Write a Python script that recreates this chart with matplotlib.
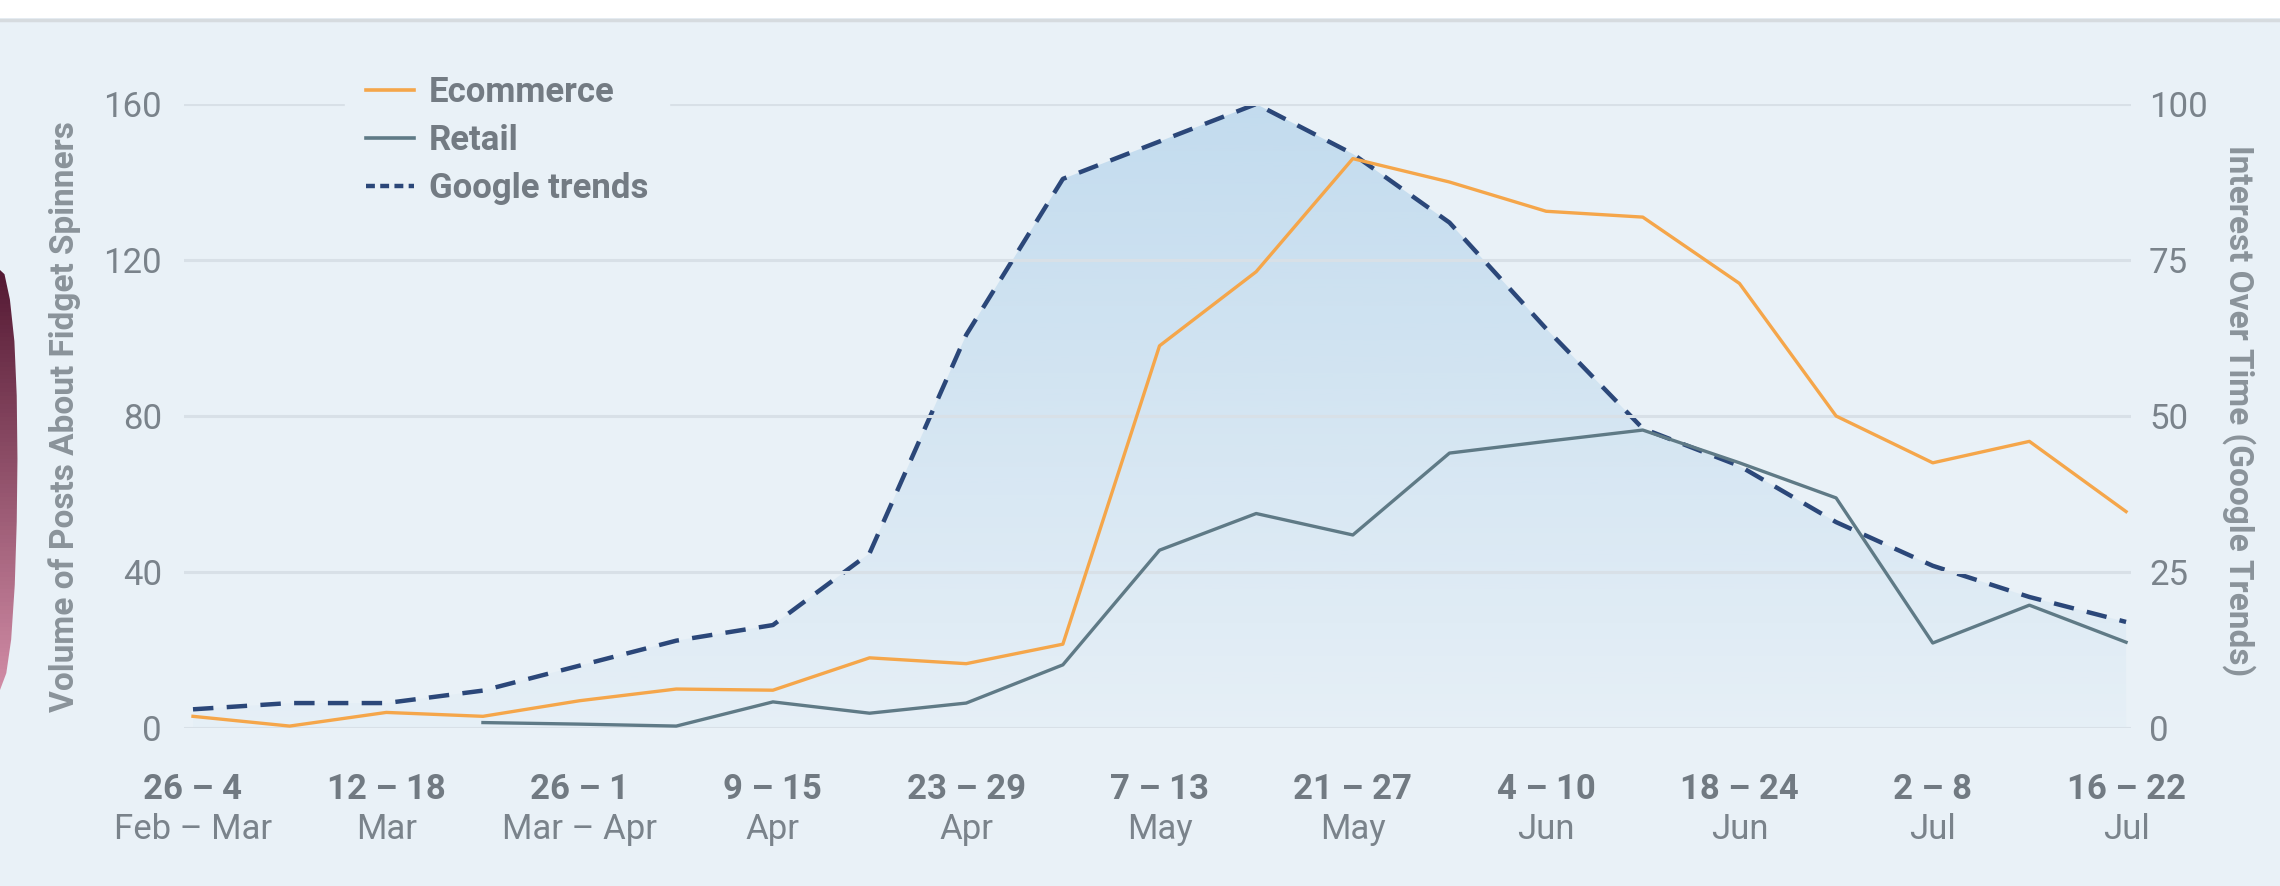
import numpy as np
import matplotlib
matplotlib.use('Agg')
import matplotlib.pyplot as plt
from matplotlib.lines import Line2D
from matplotlib.patches import Rectangle, Polygon

plt.rcParams['font.family'] = ['Roboto', 'DejaVu Sans']

# Weekly buckets, 26 Feb - 22 Jul
week_top = ['26 – 4', '12 – 18', '26 – 1', '9 – 15', '23 – 29', '7 – 13',
            '21 – 27', '4 – 10', '18 – 24', '2 – 8', '16 – 22']
week_bottom = ['Feb – Mar', 'Mar', 'Mar – Apr', 'Apr', 'Apr', 'May',
               'May', 'Jun', 'Jun', 'Jul', 'Jul']

# Volume of posts (left axis)
ecommerce = [3, 0.5, 4, 3, 7, 10, 9.7, 18, 16.5, 21.5, 98, 117, 146, 140,
             132.5, 131, 114, 80, 68, 73.5, 55.5]
retail = [np.nan, np.nan, np.nan, 1.4, 1, 0.5, 6.7, 3.8, 6.4, 16.2, 45.6, 55,
          49.5, 70.5, 73.5, 76.4, 68, 59, 21.8, 31.5, 22]
# Google trends interest (right axis, 0-100)
google = [3, 4, 4, 6, 10, 14, 16.5, 28, 63, 88, 94, 100, 92, 81, 64, 48, 42,
          33, 26, 21, 17]

left_ticks = [0, 40, 80, 120, 160]
right_ticks = [0, 25, 50, 75, 100]

BG = '#e9f1f7'
TXT = '#7a838b'
ORANGE = '#f5a64a'
RETAIL = '#5f7a86'
NAVY = '#2b4779'

x = np.arange(len(google))

fig = plt.figure(figsize=(22.8, 8.86), dpi=100, facecolor=BG)
ax = fig.add_axes([0.0807, 0.1783, 0.8539, 0.7043])
ax2 = ax.twinx()
ax.set_zorder(ax2.get_zorder() + 1)
ax.patch.set_visible(False)
ax2.patch.set_visible(False)

# gradient area under the Google trends curve
poly = ax2.fill_between(x, google, 0, color='none', lw=0)
clip = poly.get_paths()[0]
grad = np.zeros((256, 1, 4))
grad[:, 0, 0] = 0.60
grad[:, 0, 1] = 0.77
grad[:, 0, 2] = 0.90
grad[:, 0, 3] = np.linspace(0.04, 0.48, 256)
im = ax2.imshow(grad, extent=[x[0], x[-1], 0, 100], aspect='auto',
                origin='lower', zorder=1)
im.set_clip_path(clip, transform=ax2.transData)
ax2.plot(x, google, color=NAVY, lw=3.2, dashes=(4.6, 3.0), zorder=3,
         dash_capstyle='butt')

ax.plot(x, ecommerce, color=ORANGE, lw=2.4, zorder=4, clip_on=False)
ax.plot(x, retail, color=RETAIL, lw=2.4, zorder=4, clip_on=False)

ax.set_xlim(-0.093, 20.05)
ax2.set_xlim(-0.093, 20.05)
ax.set_ylim(0, 160)
ax2.set_ylim(0, 100)

for a in (ax, ax2):
    for s in a.spines.values():
        s.set_visible(False)

ax.set_axisbelow(True)
ax.yaxis.grid(True, color='#d8e0e7', lw=2.2)
ax.set_yticks(left_ticks)
ax.set_yticklabels([str(t) for t in left_ticks])
ax.tick_params(axis='y', length=0, pad=16, labelsize=25, labelcolor=TXT)
ax2.set_yticks(right_ticks)
ax2.set_yticklabels([str(t) for t in right_ticks])
ax2.tick_params(axis='y', length=0, pad=13, labelsize=25, labelcolor=TXT)

ax.set_xticks([])
ax2.set_xticks([])
trans = ax.get_xaxis_transform()
for i, (top, bottom) in enumerate(zip(week_top, week_bottom)):
    ax.text(x[2 * i], -0.099, top, transform=trans, ha='center', va='center',
            fontsize=25, fontweight='bold', color='#717a82')
    ax.text(x[2 * i], -0.163, bottom, transform=trans, ha='center',
            va='center', fontsize=25, color=TXT)

fig.text(0.0285, 0.530, 'Volume of Posts About Fidget Spinners', rotation=90,
         ha='center', va='center', fontsize=24, fontweight='bold',
         color='#8a939a')
fig.text(0.982, 0.536, 'Interest Over Time (Google Trends)', rotation=-90,
         ha='center', va='center', fontsize=24, fontweight='bold',
         color='#8a939a')

handles = [Line2D([], [], color=ORANGE, lw=2.6),
           Line2D([], [], color=RETAIL, lw=2.6),
           Line2D([], [], color=NAVY, lw=3.2, dashes=(2.0, 1.2))]
leg = ax.legend(handles, ['Ecommerce', 'Retail', 'Google trends'],
                loc='upper left', bbox_to_anchor=(345 / 2280, 1 - 55 / 886),
                bbox_transform=fig.transFigure, frameon=True, fontsize=25,
                handlelength=1.38, handletextpad=0.43, labelspacing=0.44,
                borderpad=0.6, borderaxespad=0, fancybox=False)
leg.get_frame().set_facecolor(BG)
leg.get_frame().set_edgecolor(BG)
leg.get_frame().set_alpha(1)
for t in leg.get_texts():
    t.set_color('#737b83')
    t.set_fontweight('bold')

# white strip and separator along the top edge
fig.patches.append(Rectangle((0, 1 - 18 / 886), 1, 18 / 886, transform=fig.transFigure,
                             facecolor='white', edgecolor='none', zorder=0))
fig.lines.append(Line2D([0, 1], [1 - 20 / 886, 1 - 20 / 886], transform=fig.transFigure,
                        color='#d6dbdf', lw=2.5))

# dark photo edge peeking in on the left
edge = fig.add_axes([0, (886 - 690) / 886, 18 / 2280, 420 / 886])
edge.axis('off')
eg = np.zeros((100, 1, 3))
top_c = np.array([0.33, 0.10, 0.20])
bot_c = np.array([0.82, 0.55, 0.65])
for k in range(100):
    f = k / 99
    eg[k, 0] = bot_c * f + top_c * (1 - f)
eim = edge.imshow(eg, extent=[0, 1, 0, 1], aspect='auto', origin='upper')
shape = Polygon([[0, 0.0], [0.35, 0.04], [0.62, 0.12], [0.82, 0.25],
                 [0.93, 0.40], [0.97, 0.55], [0.93, 0.70], [0.80, 0.83],
                 [0.55, 0.93], [0.25, 0.99], [0, 1.0]], closed=True,
                transform=edge.transAxes)
eim.set_clip_path(shape)
edge.set_xlim(0, 1)
edge.set_ylim(0, 1)

fig.savefig('out.png', dpi=100, facecolor=BG)
